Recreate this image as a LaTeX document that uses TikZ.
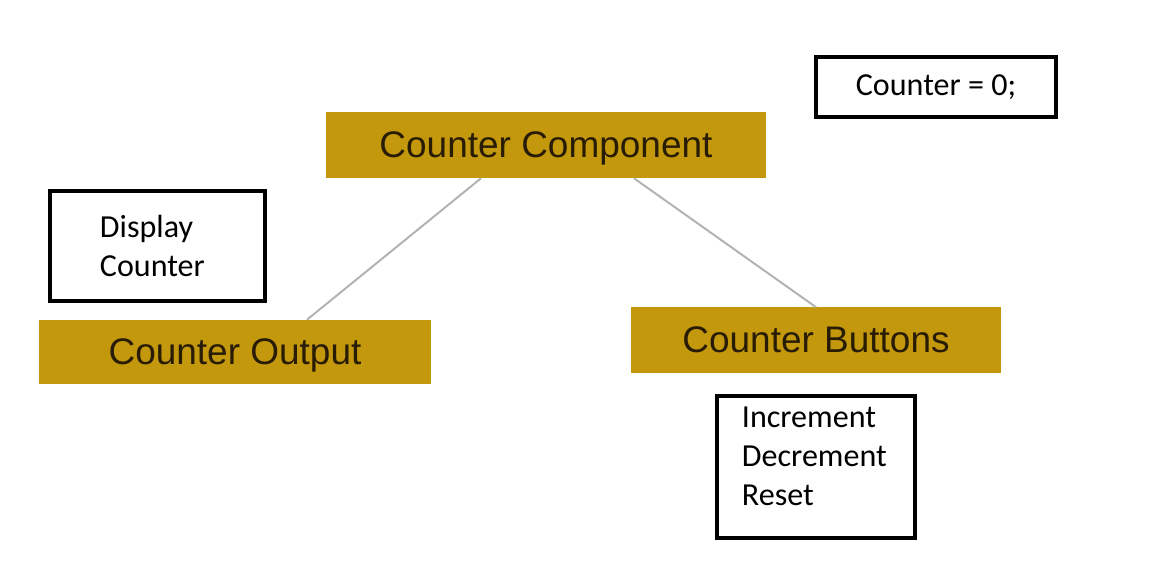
\documentclass[tikz,border=0pt]{standalone}
\usepackage{fontspec}
\usepackage{xcolor}
\usetikzlibrary{positioning}
\newfontfamily\partfont{Liberation Sans}
\newfontfamily\notefont{Carlito}
\definecolor{gold}{RGB}{196,152,12}
\definecolor{ink}{RGB}{40,28,5}
\definecolor{wire}{RGB}{178,178,178}

\begin{document}
\begin{tikzpicture}[
    x=0.025cm, y=-0.025cm,
    part/.style={rectangle, fill=gold, text=ink, minimum height=1.65cm, text depth=0pt, font=\partfont\fontsize{26.3pt}{30pt}\selectfont},
    note/.style={rectangle, draw, line width=3.2pt, align=left, font=\notefont\fontsize{22.8pt}{27.7pt}\selectfont},
    link/.style={draw=wire, line width=1.4pt}
  ]
  \useasboundingbox (0,0) rectangle (1163,577);

  % Components
  \node[part, minimum width=11cm] (component) at (546,145) {Counter Component};
  \node[part, minimum width=9.775cm, minimum height=1.6cm] (output) at (235,352) {Counter Output};
  \node[part, minimum width=9.225cm, minimum height=1.625cm] (buttons) at (816,340) {Counter Buttons};

  % Notes
  \node[note, align=center, minimum width=6cm, minimum height=1.5cm] (state) at (936,87) {Counter = 0;};
  \node[note, text width=2.875cm, inner xsep=1.25cm, minimum height=2.75cm] (display) at (157.5,246) {Display\\Counter};
  \node[note, text width=3.7cm, inner xsep=0.625cm, minimum height=3.55cm, text depth=2.5cm] (actions) at (816,467) {Increment\\Decrement\\Reset};

  % Edges
  \draw[link] ([xshift=-1.625cm]component.south) -- ([xshift=1.8cm]output.north);
  \draw[link] ([xshift=2.2cm]component.south) -- (buttons.north);

\end{tikzpicture}
\end{document}
